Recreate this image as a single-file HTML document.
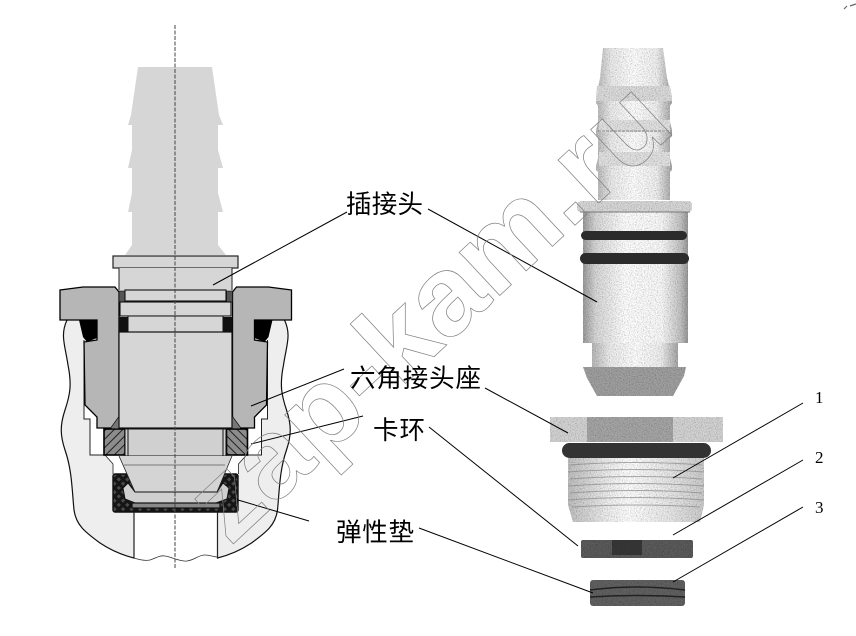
<!DOCTYPE html>
<html><head><meta charset="utf-8">
<style>
html,body{margin:0;padding:0;background:#fff;}
svg{display:block;}
.lb{font-family:"Liberation Sans","Noto Sans CJK SC",sans-serif;font-size:25.5px;fill:#000;}
.n{font-family:"Liberation Serif",serif;font-size:17px;fill:#000;}
</style></head><body>
<svg width="856" height="636" viewBox="0 0 856 636" xmlns="http://www.w3.org/2000/svg">
<defs>
<pattern id="hatch" width="6" height="6" patternUnits="userSpaceOnUse" patternTransform="rotate(-45)">
<rect width="6" height="6" fill="#8c8c8c"/><rect width="6" height="1" fill="#222"/>
</pattern>
<pattern id="cross" width="6" height="6" patternUnits="userSpaceOnUse" patternTransform="rotate(45)">
<rect width="6" height="6" fill="#151515"/><rect x="1.5" y="1.5" width="3" height="3" fill="#4a4a4a"/>
</pattern>
<filter id="noise" x="0" y="0" width="100%" height="100%">
<feTurbulence type="fractalNoise" baseFrequency="0.85" numOctaves="2" seed="4" result="t"/>
<feColorMatrix in="t" type="matrix" values="0 0 0 0 0  0 0 0 0 0  0 0 0 0 0  1.1 0 0 0 -0.45" result="a"/>
<feComposite in="a" in2="SourceAlpha" operator="in" result="n"/>
<feMerge><feMergeNode in="SourceGraphic"/><feMergeNode in="n"/></feMerge>
</filter>
<linearGradient id="barrel" x1="0" x2="1" y1="0" y2="0">
<stop offset="0" stop-color="#9c9c9c"/><stop offset=".12" stop-color="#d8d8d8"/><stop offset=".4" stop-color="#fff"/><stop offset=".75" stop-color="#fafafa"/><stop offset=".93" stop-color="#c4c4c4"/><stop offset="1" stop-color="#999"/>
</linearGradient>
<linearGradient id="neck" x1="0" x2="1" y1="0" y2="0">
<stop offset="0" stop-color="#b8b8b8"/><stop offset=".2" stop-color="#ececec"/><stop offset=".5" stop-color="#fff"/><stop offset=".8" stop-color="#f0f0f0"/><stop offset="1" stop-color="#a8a8a8"/>
</linearGradient>
<linearGradient id="thread" x1="0" x2="1" y1="0" y2="0">
<stop offset="0" stop-color="#c0c0c0"/><stop offset=".3" stop-color="#f0f0f0"/><stop offset=".45" stop-color="#fff"/><stop offset=".75" stop-color="#e8e8e8"/><stop offset="1" stop-color="#ccc"/>
</linearGradient>
<g id="half">
<path d="M67 320C60 335,65 345,68 365C72 385,70 395,65 410C60 425,60 435,65 450C72 470,72 490,74 510C76 525,85 532,100 543C112 551,122 555,134 558V512H113V320Z" fill="#eeeeee"/>
<path d="M67 320C60 335,65 345,68 365C72 385,70 395,65 410C60 425,60 435,65 450C72 470,72 490,74 510C76 525,85 532,100 543C112 551,122 555,134 558V512" fill="none" stroke="#111" stroke-width="1.2"/>
<path d="M84 340V419H90V455H105L113 463V476H125V340Z" fill="#fff"/>
<path d="M84 340V419H90V455H105" fill="none" stroke="#222" stroke-width="1"/>
<path d="M105 455L113 464V474" fill="#eee" stroke="#222" stroke-width=".8"/>
<path d="M60 290L83 287H115L119 292V417L111 428H97V417L85 405L84 342L97 340V320H60Z" fill="#b6b6b6" stroke="#000" stroke-width="1.3"/>
<path d="M79 320H97V338L87 342L83 337Z" fill="#000"/>
<path d="M119 417L111 428H119Z" fill="#777"/>
<rect x="104" y="429" width="21" height="26" fill="url(#hatch)" stroke="#000" stroke-width="1.6"/>
<path d="M119 291H125V302H119Z" fill="#555" stroke="#111" stroke-width=".8"/>
<path d="M119 317H128V332H119Z" fill="#111"/>
</g>
</defs>
<rect width="856" height="636" fill="#fff"/>

<!-- left section drawing -->
<use href="#half"/>
<use href="#half" transform="translate(351.5,0) scale(-1,1)"/>

<!-- hose barb silhouette -->
<path d="M138 67H212L219 115L223 125H218V150L223 168H218V193L223 212H218V245L226 255H125L132 245V212H128L132 193V168H128L132 150V125H128L131 115Z" fill="#d6d6d6"/>
<rect x="113" y="256" width="125" height="12" fill="#d6d6d6" stroke="#222" stroke-width="1.2"/>
<rect x="119" y="268" width="113" height="22" fill="#d6d6d6"/>
<path d="M119 268V290M232 268V290" stroke="#222" stroke-width="1"/>
<rect x="125" y="290" width="101" height="11" fill="#d6d6d6" stroke="#111" stroke-width="1.1"/>
<rect x="120" y="302" width="111" height="14" fill="#d6d6d6" stroke="#111" stroke-width="1.1"/>
<rect x="128" y="316" width="95" height="16" fill="#d6d6d6" stroke="#111" stroke-width="1"/>
<rect x="119" y="332" width="113" height="96" fill="#d6d6d6" stroke="#111" stroke-width="1.2"/>
<rect x="125" y="429" width="101" height="27" fill="#d0d0d0" stroke="#111" stroke-width="1"/>
<path d="M128 429V456M223 429V456" stroke="#111" stroke-width="1"/>

<!-- gasket -->
<rect x="113" y="474" width="125" height="38" rx="2" fill="url(#cross)" stroke="#111" stroke-width="1.4"/>
<path d="M119 456H232L217 492H135Z" fill="#d4d4d4"/>
<path d="M119 456L135 492H217L232 456" fill="none" stroke="#222" stroke-width=".8"/>
<path d="M123 488L128 483L135 492H217L223 483L229 488L227 499L216 503H135L125 499Z" fill="#cfcfcf" stroke="#111" stroke-width="1"/>
<rect x="132" y="503" width="88" height="5" fill="#8a8a8a" stroke="#111" stroke-width="1.2"/>
<path d="M124 465H225" stroke="#777" stroke-width="1"/>
<path d="M134 512V558M217.500 512V558" stroke="#222" stroke-width="1"/>
<path d="M134 558C140 560,145 561,150 560C156 558,160 555,165 556C172 557,180 562,187 561C195 560,198 555,205 555C210 555,214 557,218 557" fill="none" stroke="#333" stroke-width=".8"/>

<path d="M175 25V568" stroke="#444" stroke-width="1" stroke-dasharray="4 1.500" fill="none"/>

<!-- photo: hose connector -->
<g filter="url(#noise)">
<path d="M603 48H663L667 78L672 97V103L670 106V122L672 130V136L670 138V158L672 166V170L670 172V200H598V172L596 170V166L598 158V138L596 136V130L598 122V106L596 103V97L600 78Z" fill="url(#neck)"/>
<path d="M597 86H670L672 97V101H596V97Z" fill="#dcdcdc"/>
<path d="M599 120H670V132H599ZM599 152H670V166H599Z" fill="#e2e2e2"/>
<path d="M577 205Q577 201 583 201H688Q692 201 692 205V208Q692 212 688 212H581Q577 212 577 208Z" fill="#d8d8d8"/>
<rect x="583" y="212" width="105" height="131" fill="url(#barrel)"/>
<rect x="592" y="343" width="86" height="24" fill="url(#neck)"/>
<path d="M583 367H686L684 376L673 396H597L587 378Z" fill="#a0a0a0"/>
</g>
<g fill="#2b2b2b">
<rect x="581" y="231" width="106" height="9" rx="4.500"/>
<rect x="580" y="253" width="109" height="11" rx="5.500"/>
</g>
<path d="M580 212H690" stroke="#777" stroke-width="1"/>
<path d="M598 131H670" stroke="#888" stroke-width="1" stroke-dasharray="3 1"/>

<!-- photo: hex seat -->
<g filter="url(#noise)">
<rect x="550" y="417" width="173" height="25" fill="#d4d4d4"/>
<rect x="587" y="417" width="86" height="25" fill="#a6a6a6"/>
<path d="M568 458H704V505L700 522H573L568 505Z" fill="url(#thread)"/>
<rect x="581" y="540" width="112" height="18" rx="2" fill="#5c5c5c"/>
<rect x="590" y="580" width="95" height="26" rx="3" fill="#626262"/>
</g>
<rect x="562" y="443" width="149" height="15" rx="7.500" fill="#333"/>
<g stroke="#888" stroke-width="1" fill="none" opacity=".7">
<path d="M570 465Q636 460 702 465M568 472Q636 467 704 472M570 479Q636 474 702 479M568 486Q636 481 704 486M570 493Q636 488 702 493M568 500Q636 495 704 500M572 507Q636 503 700 507"/>
</g>
<rect x="612" y="540" width="30" height="15" fill="#262626" opacity=".7"/>
<path d="M590 590Q636 584 685 590M590 597Q636 594 685 597" stroke="#222" stroke-width="1.6" fill="none"/>

<!-- leader lines -->
<g stroke="#000" stroke-width="1" fill="none">
<path d="M347 212L213 285"/>
<path d="M428 209L597 302"/>
<path d="M344 369L251 406"/>
<path d="M485 388L568 433"/>
<path d="M363 416L251 444"/>
<path d="M429 427L578 546"/>
<path d="M309 521L238 500"/>
<path d="M419 528L593 593"/>
<path d="M803 403L673 478"/>
<path d="M803 460L673 535"/>
<path d="M803 507L673 582"/>
</g>

<!-- watermark -->
<text x="230" y="547" transform="rotate(-43 230 547)" font-family="Liberation Sans, sans-serif" font-weight="700" font-size="112" fill="none" stroke="#808080" stroke-width=".7" textLength="612" lengthAdjust="spacingAndGlyphs">zap-kam.ru</text>

<!-- labels -->
<text class="lb" x="346" y="213" textLength="77">插接头</text>
<text class="lb" x="350" y="387" textLength="131">六角接头座</text>
<text class="lb" x="373" y="439" textLength="52">卡环</text>
<text class="lb" x="336" y="541" textLength="78">弹性垫</text>
<text class="n" x="815" y="403">1</text>
<text class="n" x="815" y="463">2</text>
<text class="n" x="815" y="513">3</text>

<path d="M844 9L847 6M850 6L856 4" stroke="#666" stroke-width="1.200" fill="none"/>
</svg>
</body></html>
